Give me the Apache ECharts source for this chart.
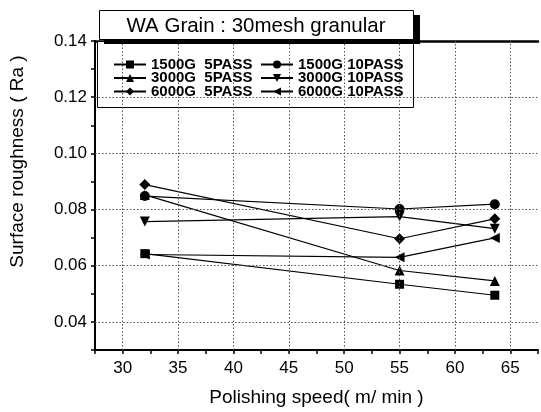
<!DOCTYPE html>
<html><head><meta charset="utf-8">
<script src="https://cdn.jsdelivr.net/npm/echarts@6/dist/echarts.min.js"></script>
<style>html,body{margin:0;padding:0;background:#fff}#c{width:541px;height:412px}</style>
</head><body><div id="c"></div>
<script>
const speeds = [32, 55, 63.6];
const s1500_5 = [0.0643, 0.0534, 0.0495];
const s1500_10 = [0.0848, 0.0802, 0.0819];
const s3000_5 = [0.0852, 0.0583, 0.0546];
const s3000_10 = [0.0757, 0.0775, 0.0732];
const s6000_5 = [0.0889, 0.0696, 0.0767];
const s6000_10 = [0.0640, 0.0630, 0.0699];
const names = ['1500G  5PASS','1500G 10PASS','3000G  5PASS','3000G 10PASS','6000G  5PASS','6000G 10PASS'];
const gridY = [0.04, 0.06, 0.08, 0.10, 0.12];
const gridX = [30, 35, 40, 45, 50, 55, 60, 65];
const titleText = 'WA Grain : 30mesh granular';

const vals = [s1500_5, s1500_10, s3000_5, s3000_10, s6000_5, s6000_10];
const syms = ['rect','circle','triangle','triangle','diamond','triangle'];
const rots = [0, 0, 0, 180, 0, 90];
const sizes = [9, 10, 10, 10, 11, 10];
const FONT = 'Liberation Sans, Arial, sans-serif';

const series = vals.map((v, i) => ({
  name: names[i], type: 'line', z: 3,
  data: speeds.map((x, j) => [x, v[j]]),
  symbol: syms[i], symbolRotate: rots[i], symbolSize: sizes[i],
  itemStyle: {color: '#000'}, lineStyle: {color: '#000', width: 1.2},
  emphasis: {disabled: true}
}));
series.push({
  type: 'line', data: [], z: 1, silent: true,
  markLine: {
    symbol: 'none', silent: true, animation: false, label: {show: false},
    lineStyle: {color: '#555', type: [1.5, 2], width: 1},
    data: gridY.map(v => ({yAxis: v})).concat(gridX.map(v => ({xAxis: v})))
  }
});

const legendText = {fontFamily: FONT, fontSize: 15, fontWeight: 'bold', color: '#000', lineHeight: 14};
const legendCommon = {top: 52, orient: 'vertical', z: 20, itemWidth: 32, itemHeight: 10, itemGap: -1.5, textStyle: legendText};
const chart = echarts.init(document.getElementById('c'));
chart.setOption({
  animation: false,
  grid: {left: 95, right: 0, top: 41, bottom: 61},
  xAxis: [{
    type: 'value', min: 27.5, max: 67.5, interval: 2.5,
    name: 'Polishing speed( m/ min )', nameLocation: 'middle', nameGap: 38,
    nameTextStyle: {fontFamily: FONT, fontSize: 19, color: '#000'},
    axisLine: {show: true, lineStyle: {color: '#000', width: 2}},
    axisTick: {show: true, length: 4, lineStyle: {color: '#000', width: 1.5}},
    axisLabel: {fontFamily: FONT, fontSize: 17, color: '#000', margin: 10,
      formatter: v => (Math.abs(v % 5) < 1e-6 ? String(v) : '')},
    splitLine: {show: false}
  }, {
    type: 'value', position: 'top', min: 27.5, max: 67.5,
    axisLine: {show: true, lineStyle: {color: '#000', width: 2.5}},
    axisTick: {show: false}, axisLabel: {show: false}, splitLine: {show: false}
  }],
  yAxis: {
    type: 'value', min: 0.03, max: 0.14, interval: 0.01,
    name: 'Surface roughness ( Ra )', nameLocation: 'middle', nameGap: 68,
    nameTextStyle: {fontFamily: FONT, fontSize: 19, color: '#000', padding: [0, 0, 0, 68]},
    axisLine: {show: true, lineStyle: {color: '#000', width: 2}},
    axisTick: {show: true, length: 4, lineStyle: {color: '#000', width: 1.5}},
    axisLabel: {fontFamily: FONT, fontSize: 17, color: '#000', margin: 8,
      formatter: v => (Math.round(v * 100) % 2 === 0 ? v.toFixed(2) : '')},
    splitLine: {show: false}
  },
  legend: [
    Object.assign({data: [names[0], names[2], names[4]], left: 108}, legendCommon),
    Object.assign({data: [names[1], names[3], names[5]], left: 255}, legendCommon)
  ],
  graphic: [
    {type: 'rect', z: 5, shape: {x: 97.5, y: 41.5, width: 316, height: 66},
     style: {fill: '#fff', stroke: '#000', lineWidth: 1}},
    {type: 'rect', z: 6, shape: {x: 104, y: 15, width: 316, height: 29},
     style: {fill: '#000'}},
    {type: 'rect', z: 7, shape: {x: 99.5, y: 10.5, width: 314, height: 29},
     style: {fill: '#fff', stroke: '#000', lineWidth: 1}},
    {type: 'text', z: 8, x: 256, y: 26, style: {text: titleText,
      font: '20.5px ' + FONT, fill: '#000', textAlign: 'center', textVerticalAlign: 'middle'}}
  ],
  series: series
});
</script></body></html>
